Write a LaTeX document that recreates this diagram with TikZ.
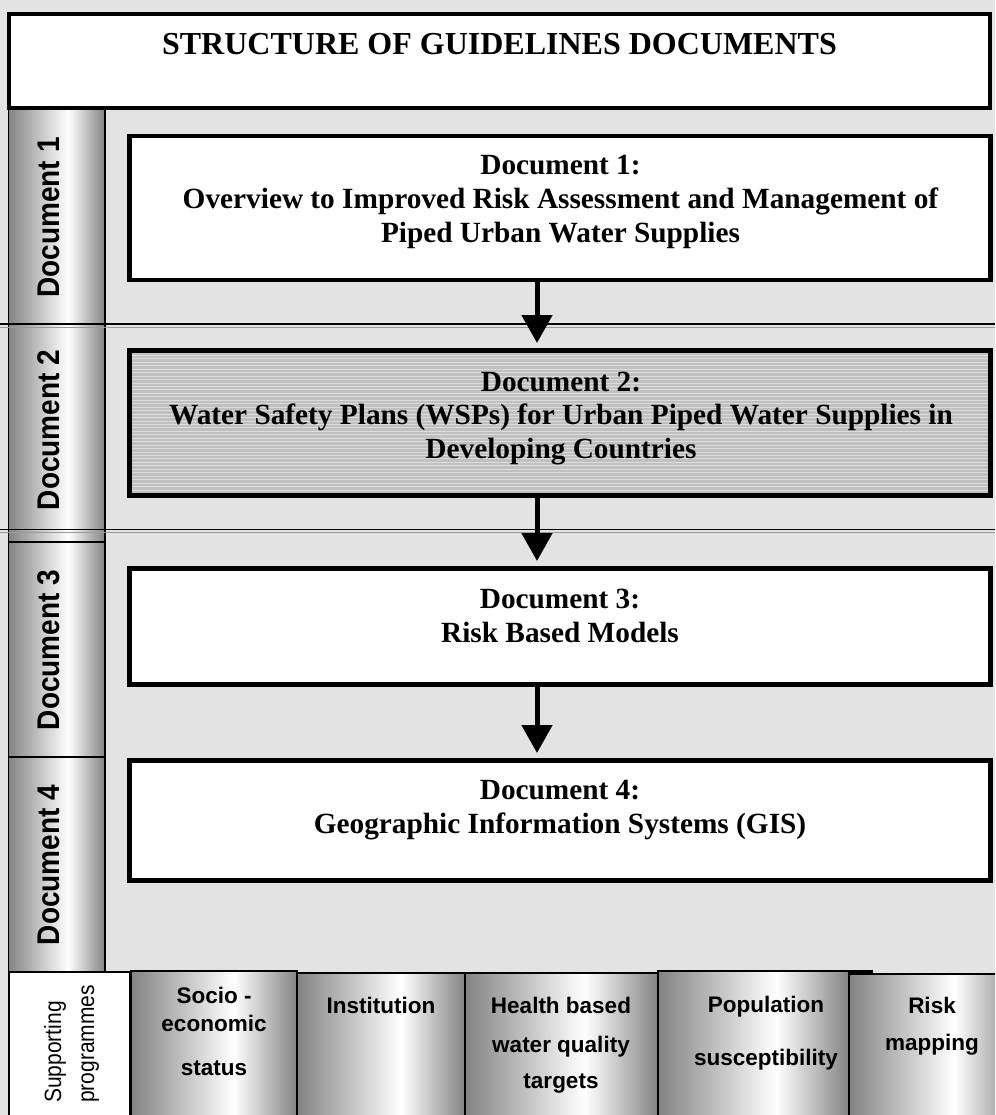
\documentclass[tikz,border=0pt]{standalone}
\usepackage{fontspec}
\usepackage{graphicx}
\setmainfont{Liberation Serif}
\setsansfont{Liberation Sans}
\usetikzlibrary{arrows.meta}
\definecolor{bg}{HTML}{E3E3E3}
\definecolor{sdark}{HTML}{838383}
\definecolor{hatchfill}{HTML}{C0C0C0}
\definecolor{hatchline}{HTML}{DCDCDC}
\definecolor{dline}{HTML}{9A9A9A}
\pgfdeclarehorizontalshading{cyl}{100bp}{color(0bp)=(sdark); color(25bp)=(sdark); color(56bp)=(white); color(75bp)=(sdark); color(100bp)=(sdark)}
\newcommand{\tallish}[1]{\scalebox{1}[1.12]{#1}}
\begin{document}
\begin{tikzpicture}[x=1pt,y=-1pt,
  docbox/.style={rectangle, draw=black, line width=4.5pt, fill=white, inner sep=0, outer sep=0, anchor=north west},
  titlebox/.style={rectangle, draw=black, line width=4pt, fill=white, inner sep=0, outer sep=0, anchor=north west},
  progbox/.style={rectangle, draw=black, line width=2pt, shade, shading=cyl, inner sep=0, outer sep=0, anchor=north west},
  supbox/.style={rectangle, draw=black, line width=1.5pt, fill=white, inner sep=0, outer sep=0, anchor=north west},
  doctext/.style={font=\bfseries\fontsize{29.3}{33.5}\selectfont, align=center, anchor=base, inner sep=0},
  titletext/.style={font=\bfseries\fontsize{32}{38}\selectfont, anchor=base, inner sep=0},
  sidetext/.style={font=\sffamily\bfseries\fontsize{28}{30}\selectfont, rotate=90, anchor=base, inner sep=0},
  progtext/.style={font=\sffamily\bfseries\fontsize{22.5}{28}\selectfont, align=center, anchor=base, inner sep=0},
  suptext/.style={font=\sffamily\fontsize{21}{25}\selectfont, rotate=90, anchor=base west, inner sep=0},
  sideline/.style={line width=1.5pt, draw=black},
  arr/.style={line width=5pt, -{Triangle[length=28pt,width=30pt]}, shorten >=7.5pt}
]
\useasboundingbox (0,0) rectangle (995,1115);
\clip (0,0) rectangle (995,1115);
\fill[bg] (0,0) rectangle (995,1115);

% sidebar
\shade[shading=cyl] (8,108) rectangle (105,972);
\draw[sideline] (8.5,108) -- (8.5,972);
\draw[sideline] (105,108) -- (105,972);
\draw[sideline] (8,542) -- (105,542);
\draw[sideline] (8,757) -- (105,757);
\draw[sideline] (8,972) -- (105,972);

% double separator lines
\draw[line width=1.3pt, black] (0,324) -- (995,324);
\draw[line width=1pt, dline] (0,327.2) -- (995,327.2);
\draw[line width=1.3pt, black] (0,529.5) -- (995,529.5);
\draw[line width=1pt, dline] (0,532.7) -- (995,532.7);

% title
\node[titlebox, minimum width=981pt, minimum height=94pt] (title) at (9,14) {};
\node[titletext] (ttitle) at (499.5,55) {STRUCTURE OF GUIDELINES DOCUMENTS};

% sidebar labels
\node[sidetext] (s1) at (59,217.5) {\tallish{Document 1}};
\node[sidetext] (s2) at (59,430) {\tallish{Document 2}};
\node[sidetext] (s3) at (59,650) {\tallish{Document 3}};
\node[sidetext] (s4) at (59,865) {\tallish{Document 4}};

% document boxes
\node[docbox, minimum width=861pt, minimum height=144pt] (d1) at (129.5,136) {};
\node[docbox, fill=hatchfill, minimum width=861pt, minimum height=145pt,
  path picture={\foreach \k in {0,...,43}{\draw[hatchline, line width=1pt] ([yshift=-1.5pt-\k*3.45pt]path picture bounding box.north west) -- ([yshift=-1.5pt-\k*3.45pt]path picture bounding box.north east);}}] (d2) at (129.5,350.5) {};
\node[docbox, minimum width=861pt, minimum height=116pt] (d3) at (129.5,568.5) {};
\node[docbox, minimum width=861pt, minimum height=120pt] (d4) at (129.5,760.5) {};

% (base anchor of a multi-line node = baseline of its last line)
\node[doctext] (t1) at (560.5,242) {Document 1:\\Overview to Improved Risk Assessment and Management of\\Piped Urban Water Supplies};
\node[doctext] (t2) at (561,458) {Document 2:\\Water Safety Plans (WSPs) for Urban Piped Water Supplies in\\Developing Countries};
\node[doctext] (t3) at (560,642) {Document 3:\\Risk Based Models};
\node[doctext] (t4) at (560,833) {Document 4:\\Geographic Information Systems (GIS)};

% arrows
\coordinate (ax) at (537,0);
\draw[arr] (d1.south -| ax) -- (d2.north -| ax);
\draw[arr] (d2.south -| ax) -- (d3.north -| ax);
\draw[arr] (d3.south -| ax) -- (d4.north -| ax);

% supporting programmes
\node[supbox, minimum width=121pt, minimum height=160pt] (sup) at (9,972) {};
\node[suptext] (sp1) at (61,1103) {\tallish{Supporting}};
\node[suptext] (sp2) at (94,1103) {\tallish{programmes}};

\node[progbox, minimum width=166pt, minimum height=160pt] (soc) at (131,971) {};
\node[progbox, minimum width=168pt, minimum height=160pt] (ins) at (297,973) {};
\node[progbox, minimum width=193pt, minimum height=160pt] (hea) at (465,973) {};
\node[progbox, minimum width=191pt, minimum height=160pt] (pop) at (658,971) {};
\node[progbox, minimum width=170pt, minimum height=160pt] (rsk) at (849,974) {};
\draw[line width=2.5pt] (849,971.5) -- (873,971.5);

\node[progtext] (tsoc) at (214,1075) {Socio -\\economic\\[16pt]status};
\node[progtext] (tins) at (381,1013) {Institution};
\node[progtext] (thea) at (561,1088) {Health based\\[11pt]water quality\\[8pt]targets};
\node[progtext] (tpop) at (766,1065) {Population\\[25pt]susceptibility};
\node[progtext] (trsk) at (932,1050) {Risk\\[9pt]mapping};
\end{tikzpicture}
\end{document}
